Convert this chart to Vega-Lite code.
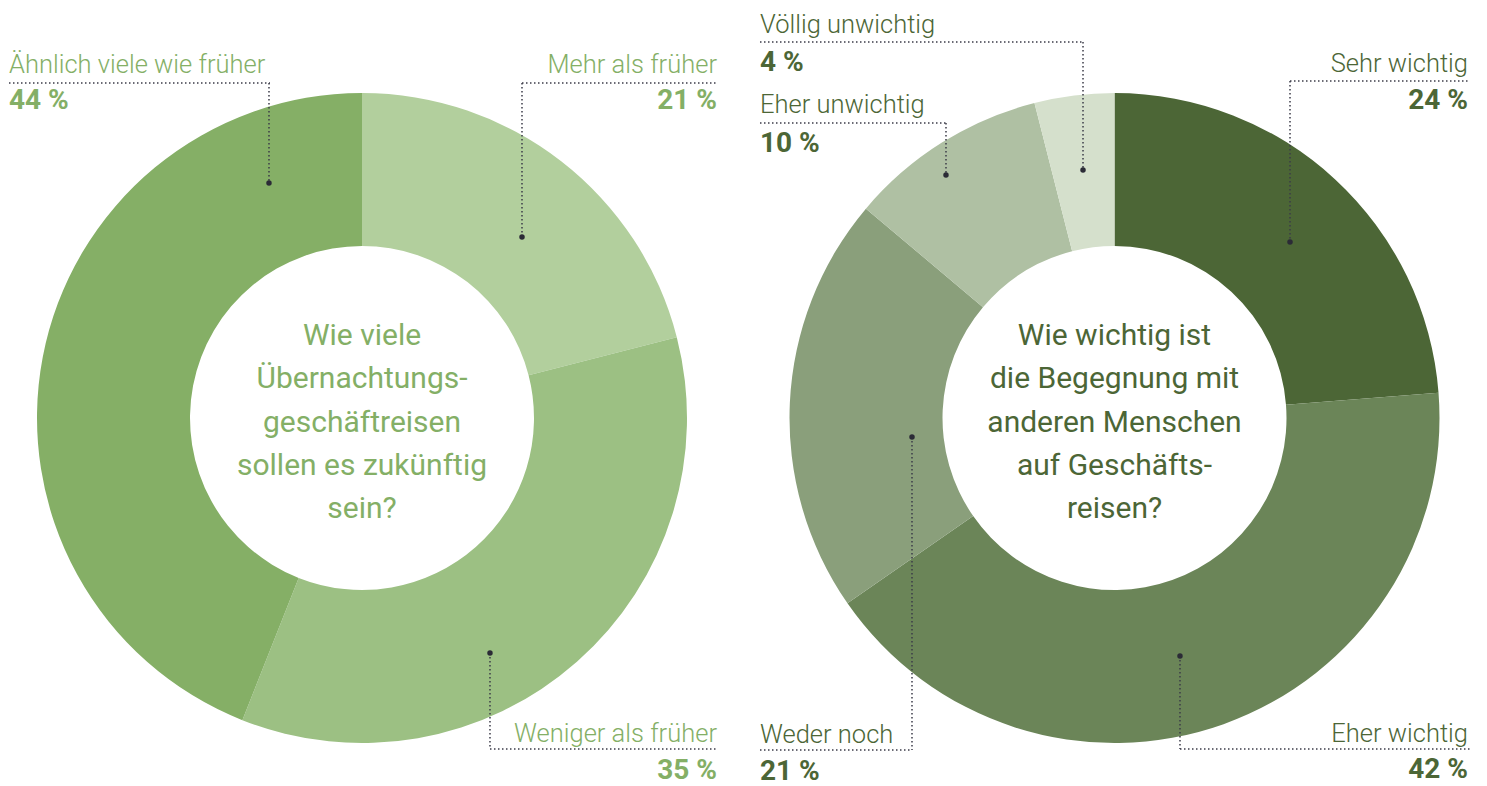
{
  "$schema": "https://vega.github.io/schema/vega-lite/v6.json",
  "width": 1487,
  "height": 786,
  "autosize": {"type": "fit", "contains": "padding"},
  "padding": 0,
  "background": "white",
  "config": {"view": {"stroke": null}},
  "resolve": {"scale": {"theta": "independent"}},
  "data": {"values": [
    {"q": "L", "label": "Mehr als früher", "pct": 21, "seq": 1},
    {"q": "L", "label": "Weniger als früher", "pct": 35, "seq": 2},
    {"q": "L", "label": "Ähnlich viele wie früher", "pct": 44, "seq": 3},
    {"q": "R", "label": "Sehr wichtig", "pct": 24, "seq": 1},
    {"q": "R", "label": "Eher wichtig", "pct": 42, "seq": 2},
    {"q": "R", "label": "Weder noch", "pct": 21, "seq": 3},
    {"q": "R", "label": "Eher unwichtig", "pct": 10, "seq": 4},
    {"q": "R", "label": "Völlig unwichtig", "pct": 4, "seq": 5}
  ]},
  "transform": [{"calculate": "datum.pct + ' %'", "as": "pctLabel"}],
  "layer": [
    {"transform": [{"filter": "datum.q === 'L'"}],
     "mark": {"type": "arc", "outerRadius": 325, "innerRadius": 172},
     "encoding": {
       "theta": {"field": "pct", "type": "quantitative", "stack": true},
       "order": {"field": "seq", "type": "quantitative"},
       "color": {"field": "label", "type": "nominal", "legend": null,
         "scale": {"domain": ["Mehr als früher", "Weniger als früher", "Ähnlich viele wie früher", "Sehr wichtig", "Eher wichtig", "Weder noch", "Eher unwichtig", "Völlig unwichtig"],
                   "range": ["#B2CF9D", "#9CC083", "#85AF66", "#4C6636", "#6B8558", "#8A9F7B", "#AFC0A3", "#D5E0CC"]}},
       "x": {"datum": 0, "type": "quantitative", "scale": {"domain": [-111.385, 346.154], "nice": false, "zero": false}, "axis": null},
       "y": {"datum": 0, "type": "quantitative", "scale": {"domain": [-113.231, 128.615], "nice": false, "zero": false}, "axis": null}
     }},
    {"transform": [{"filter": "datum.q === 'R'"}],
     "mark": {"type": "arc", "outerRadius": 325, "innerRadius": 172},
     "encoding": {
       "theta": {"field": "pct", "type": "quantitative", "stack": true},
       "order": {"field": "seq", "type": "quantitative"},
       "color": {"field": "label", "type": "nominal", "legend": null,
         "scale": {"domain": ["Mehr als früher", "Weniger als früher", "Ähnlich viele wie früher", "Sehr wichtig", "Eher wichtig", "Weder noch", "Eher unwichtig", "Völlig unwichtig"],
                   "range": ["#B2CF9D", "#9CC083", "#85AF66", "#4C6636", "#6B8558", "#8A9F7B", "#AFC0A3", "#D5E0CC"]}},
       "x": {"datum": 231.54, "type": "quantitative", "scale": {"domain": [-111.385, 346.154], "nice": false, "zero": false}, "axis": null},
       "y": {"datum": 0, "type": "quantitative", "scale": {"domain": [-113.231, 128.615], "nice": false, "zero": false}, "axis": null}
     }},

    {"data": {"values": [{}]},
     "mark": {"type": "text", "align": "center", "baseline": "alphabetic", "font": "Roboto", "fontSize": 30, "lineHeight": 43.3, "color": "#84AF66",
              "text": ["Wie viele", "Übernachtungs-", "geschäftreisen", "sollen es zukünftig", "sein?"]},
     "encoding": {
       "x": {"datum": 0, "type": "quantitative", "scale": {"domain": [-111.385, 346.154], "nice": false, "zero": false}, "axis": null},
       "y": {"datum": 22.46, "type": "quantitative", "scale": {"domain": [-113.231, 128.615], "nice": false, "zero": false}, "axis": null}
     }},
    {"data": {"values": [{}]},
     "mark": {"type": "text", "align": "center", "baseline": "alphabetic", "font": "Roboto", "fontSize": 30, "lineHeight": 43.3, "color": "#4C6636",
              "text": ["Wie wichtig ist", "die Begegnung mit", "anderen Menschen", "auf Geschäfts-", "reisen?"]},
     "encoding": {
       "x": {"datum": 231.54, "type": "quantitative", "scale": {"domain": [-111.385, 346.154], "nice": false, "zero": false}, "axis": null},
       "y": {"datum": 22.46, "type": "quantitative", "scale": {"domain": [-113.231, 128.615], "nice": false, "zero": false}, "axis": null}
     }},

    {"transform": [{"filter": "datum.label === 'Ähnlich viele wie früher'"}],
     "mark": {"type": "text", "align": "left", "baseline": "alphabetic", "font": "Roboto", "fontSize": 25.5, "fontWeight": 300, "color": "#84AF66"},
     "encoding": {"text": {"field": "label"},
       "x": {"datum": -108.62, "type": "quantitative", "scale": {"domain": [-111.385, 346.154], "nice": false, "zero": false}, "axis": null},
       "y": {"datum": 106.15, "type": "quantitative", "scale": {"domain": [-113.231, 128.615], "nice": false, "zero": false}, "axis": null}}},
    {"transform": [{"filter": "datum.label === 'Ähnlich viele wie früher'"}],
     "mark": {"type": "text", "align": "left", "baseline": "alphabetic", "font": "Roboto", "fontSize": 28, "fontWeight": "bold", "color": "#84AF66"},
     "encoding": {"text": {"field": "pctLabel"},
       "x": {"datum": -108.62, "type": "quantitative", "scale": {"domain": [-111.385, 346.154], "nice": false, "zero": false}, "axis": null},
       "y": {"datum": 95.08, "type": "quantitative", "scale": {"domain": [-113.231, 128.615], "nice": false, "zero": false}, "axis": null}}},
    {"transform": [{"filter": "datum.label === 'Ähnlich viele wie früher'"}],
     "mark": {"type": "rule", "color": "#3b3b48", "strokeWidth": 1.5, "strokeDash": [1.5, 2.5]},
     "encoding": {
       "x": {"datum": -108.62, "type": "quantitative", "scale": {"domain": [-111.385, 346.154], "nice": false, "zero": false}, "axis": null},
       "x2": {"datum": -28.31},
       "y": {"datum": 103.08, "type": "quantitative", "scale": {"domain": [-113.231, 128.615], "nice": false, "zero": false}, "axis": null}}},
    {"transform": [{"filter": "datum.label === 'Ähnlich viele wie früher'"}],
     "mark": {"type": "rule", "color": "#3b3b48", "strokeWidth": 1.5, "strokeDash": [1.5, 2.5]},
     "encoding": {
       "x": {"datum": -28.62, "type": "quantitative", "scale": {"domain": [-111.385, 346.154], "nice": false, "zero": false}, "axis": null},
       "y": {"datum": 103.08, "type": "quantitative", "scale": {"domain": [-113.231, 128.615], "nice": false, "zero": false}, "axis": null},
       "y2": {"datum": 72.31}}},
    {"transform": [{"filter": "datum.label === 'Ähnlich viele wie früher'"}],
     "mark": {"type": "point", "filled": true, "size": 30, "color": "#2b2b36", "opacity": 1},
     "encoding": {
       "x": {"datum": -28.62, "type": "quantitative", "scale": {"domain": [-111.385, 346.154], "nice": false, "zero": false}, "axis": null},
       "y": {"datum": 72.31, "type": "quantitative", "scale": {"domain": [-113.231, 128.615], "nice": false, "zero": false}, "axis": null}}},

    {"transform": [{"filter": "datum.label === 'Mehr als früher'"}],
     "mark": {"type": "text", "align": "right", "baseline": "alphabetic", "font": "Roboto", "fontSize": 25.5, "fontWeight": 300, "color": "#84AF66"},
     "encoding": {"text": {"field": "label"},
       "x": {"datum": 109.23, "type": "quantitative", "scale": {"domain": [-111.385, 346.154], "nice": false, "zero": false}, "axis": null},
       "y": {"datum": 106.15, "type": "quantitative", "scale": {"domain": [-113.231, 128.615], "nice": false, "zero": false}, "axis": null}}},
    {"transform": [{"filter": "datum.label === 'Mehr als früher'"}],
     "mark": {"type": "text", "align": "right", "baseline": "alphabetic", "font": "Roboto", "fontSize": 28, "fontWeight": "bold", "color": "#84AF66"},
     "encoding": {"text": {"field": "pctLabel"},
       "x": {"datum": 109.23, "type": "quantitative", "scale": {"domain": [-111.385, 346.154], "nice": false, "zero": false}, "axis": null},
       "y": {"datum": 95.08, "type": "quantitative", "scale": {"domain": [-113.231, 128.615], "nice": false, "zero": false}, "axis": null}}},
    {"transform": [{"filter": "datum.label === 'Mehr als früher'"}],
     "mark": {"type": "rule", "color": "#3b3b48", "strokeWidth": 1.5, "strokeDash": [1.5, 2.5]},
     "encoding": {
       "x": {"datum": 49.23, "type": "quantitative", "scale": {"domain": [-111.385, 346.154], "nice": false, "zero": false}, "axis": null},
       "x2": {"datum": 109.54},
       "y": {"datum": 103.08, "type": "quantitative", "scale": {"domain": [-113.231, 128.615], "nice": false, "zero": false}, "axis": null}}},
    {"transform": [{"filter": "datum.label === 'Mehr als früher'"}],
     "mark": {"type": "rule", "color": "#3b3b48", "strokeWidth": 1.5, "strokeDash": [1.5, 2.5]},
     "encoding": {
       "x": {"datum": 49.23, "type": "quantitative", "scale": {"domain": [-111.385, 346.154], "nice": false, "zero": false}, "axis": null},
       "y": {"datum": 103.08, "type": "quantitative", "scale": {"domain": [-113.231, 128.615], "nice": false, "zero": false}, "axis": null},
       "y2": {"datum": 55.69}}},
    {"transform": [{"filter": "datum.label === 'Mehr als früher'"}],
     "mark": {"type": "point", "filled": true, "size": 30, "color": "#2b2b36", "opacity": 1},
     "encoding": {
       "x": {"datum": 49.23, "type": "quantitative", "scale": {"domain": [-111.385, 346.154], "nice": false, "zero": false}, "axis": null},
       "y": {"datum": 55.69, "type": "quantitative", "scale": {"domain": [-113.231, 128.615], "nice": false, "zero": false}, "axis": null}}},

    {"transform": [{"filter": "datum.label === 'Weniger als früher'"}],
     "mark": {"type": "text", "align": "right", "baseline": "alphabetic", "font": "Roboto", "fontSize": 25.5, "fontWeight": 300, "color": "#84AF66"},
     "encoding": {"text": {"field": "label"},
       "x": {"datum": 109.23, "type": "quantitative", "scale": {"domain": [-111.385, 346.154], "nice": false, "zero": false}, "axis": null},
       "y": {"datum": -99.69, "type": "quantitative", "scale": {"domain": [-113.231, 128.615], "nice": false, "zero": false}, "axis": null}}},
    {"transform": [{"filter": "datum.label === 'Weniger als früher'"}],
     "mark": {"type": "text", "align": "right", "baseline": "alphabetic", "font": "Roboto", "fontSize": 28, "fontWeight": "bold", "color": "#84AF66"},
     "encoding": {"text": {"field": "pctLabel"},
       "x": {"datum": 109.23, "type": "quantitative", "scale": {"domain": [-111.385, 346.154], "nice": false, "zero": false}, "axis": null},
       "y": {"datum": -111.08, "type": "quantitative", "scale": {"domain": [-113.231, 128.615], "nice": false, "zero": false}, "axis": null}}},
    {"transform": [{"filter": "datum.label === 'Weniger als früher'"}],
     "mark": {"type": "rule", "color": "#3b3b48", "strokeWidth": 1.5, "strokeDash": [1.5, 2.5]},
     "encoding": {
       "x": {"datum": 39.38, "type": "quantitative", "scale": {"domain": [-111.385, 346.154], "nice": false, "zero": false}, "axis": null},
       "x2": {"datum": 109.54},
       "y": {"datum": -101.85, "type": "quantitative", "scale": {"domain": [-113.231, 128.615], "nice": false, "zero": false}, "axis": null}}},
    {"transform": [{"filter": "datum.label === 'Weniger als früher'"}],
     "mark": {"type": "rule", "color": "#3b3b48", "strokeWidth": 1.5, "strokeDash": [1.5, 2.5]},
     "encoding": {
       "x": {"datum": 39.38, "type": "quantitative", "scale": {"domain": [-111.385, 346.154], "nice": false, "zero": false}, "axis": null},
       "y": {"datum": -72.31, "type": "quantitative", "scale": {"domain": [-113.231, 128.615], "nice": false, "zero": false}, "axis": null},
       "y2": {"datum": -101.85}}},
    {"transform": [{"filter": "datum.label === 'Weniger als früher'"}],
     "mark": {"type": "point", "filled": true, "size": 30, "color": "#2b2b36", "opacity": 1},
     "encoding": {
       "x": {"datum": 39.38, "type": "quantitative", "scale": {"domain": [-111.385, 346.154], "nice": false, "zero": false}, "axis": null},
       "y": {"datum": -72.31, "type": "quantitative", "scale": {"domain": [-113.231, 128.615], "nice": false, "zero": false}, "axis": null}}},

    {"transform": [{"filter": "datum.label === 'Völlig unwichtig'"}],
     "mark": {"type": "text", "align": "left", "baseline": "alphabetic", "font": "Roboto", "fontSize": 25.5, "fontWeight": 300, "color": "#4C6636"},
     "encoding": {"text": {"field": "label"},
       "x": {"datum": 122.46, "type": "quantitative", "scale": {"domain": [-111.385, 346.154], "nice": false, "zero": false}, "axis": null},
       "y": {"datum": 118.46, "type": "quantitative", "scale": {"domain": [-113.231, 128.615], "nice": false, "zero": false}, "axis": null}}},
    {"transform": [{"filter": "datum.label === 'Völlig unwichtig'"}],
     "mark": {"type": "text", "align": "left", "baseline": "alphabetic", "font": "Roboto", "fontSize": 28, "fontWeight": "bold", "color": "#4C6636"},
     "encoding": {"text": {"field": "pctLabel"},
       "x": {"datum": 122.46, "type": "quantitative", "scale": {"domain": [-111.385, 346.154], "nice": false, "zero": false}, "axis": null},
       "y": {"datum": 106.77, "type": "quantitative", "scale": {"domain": [-113.231, 128.615], "nice": false, "zero": false}, "axis": null}}},
    {"transform": [{"filter": "datum.label === 'Völlig unwichtig'"}],
     "mark": {"type": "rule", "color": "#3b3b48", "strokeWidth": 1.5, "strokeDash": [1.5, 2.5]},
     "encoding": {
       "x": {"datum": 122.46, "type": "quantitative", "scale": {"domain": [-111.385, 346.154], "nice": false, "zero": false}, "axis": null},
       "x2": {"datum": 222.15},
       "y": {"datum": 115.69, "type": "quantitative", "scale": {"domain": [-113.231, 128.615], "nice": false, "zero": false}, "axis": null}}},
    {"transform": [{"filter": "datum.label === 'Völlig unwichtig'"}],
     "mark": {"type": "rule", "color": "#3b3b48", "strokeWidth": 1.5, "strokeDash": [1.5, 2.5]},
     "encoding": {
       "x": {"datum": 221.85, "type": "quantitative", "scale": {"domain": [-111.385, 346.154], "nice": false, "zero": false}, "axis": null},
       "y": {"datum": 115.69, "type": "quantitative", "scale": {"domain": [-113.231, 128.615], "nice": false, "zero": false}, "axis": null},
       "y2": {"datum": 76.31}}},
    {"transform": [{"filter": "datum.label === 'Völlig unwichtig'"}],
     "mark": {"type": "point", "filled": true, "size": 30, "color": "#2b2b36", "opacity": 1},
     "encoding": {
       "x": {"datum": 221.85, "type": "quantitative", "scale": {"domain": [-111.385, 346.154], "nice": false, "zero": false}, "axis": null},
       "y": {"datum": 76.31, "type": "quantitative", "scale": {"domain": [-113.231, 128.615], "nice": false, "zero": false}, "axis": null}}},

    {"transform": [{"filter": "datum.label === 'Eher unwichtig'"}],
     "mark": {"type": "text", "align": "left", "baseline": "alphabetic", "font": "Roboto", "fontSize": 25.5, "fontWeight": 300, "color": "#4C6636"},
     "encoding": {"text": {"field": "label"},
       "x": {"datum": 122.46, "type": "quantitative", "scale": {"domain": [-111.385, 346.154], "nice": false, "zero": false}, "axis": null},
       "y": {"datum": 93.85, "type": "quantitative", "scale": {"domain": [-113.231, 128.615], "nice": false, "zero": false}, "axis": null}}},
    {"transform": [{"filter": "datum.label === 'Eher unwichtig'"}],
     "mark": {"type": "text", "align": "left", "baseline": "alphabetic", "font": "Roboto", "fontSize": 28, "fontWeight": "bold", "color": "#4C6636"},
     "encoding": {"text": {"field": "pctLabel"},
       "x": {"datum": 122.46, "type": "quantitative", "scale": {"domain": [-111.385, 346.154], "nice": false, "zero": false}, "axis": null},
       "y": {"datum": 81.85, "type": "quantitative", "scale": {"domain": [-113.231, 128.615], "nice": false, "zero": false}, "axis": null}}},
    {"transform": [{"filter": "datum.label === 'Eher unwichtig'"}],
     "mark": {"type": "rule", "color": "#3b3b48", "strokeWidth": 1.5, "strokeDash": [1.5, 2.5]},
     "encoding": {
       "x": {"datum": 122.46, "type": "quantitative", "scale": {"domain": [-111.385, 346.154], "nice": false, "zero": false}, "axis": null},
       "x2": {"datum": 180.0},
       "y": {"datum": 90.77, "type": "quantitative", "scale": {"domain": [-113.231, 128.615], "nice": false, "zero": false}, "axis": null}}},
    {"transform": [{"filter": "datum.label === 'Eher unwichtig'"}],
     "mark": {"type": "rule", "color": "#3b3b48", "strokeWidth": 1.5, "strokeDash": [1.5, 2.5]},
     "encoding": {
       "x": {"datum": 179.69, "type": "quantitative", "scale": {"domain": [-111.385, 346.154], "nice": false, "zero": false}, "axis": null},
       "y": {"datum": 90.77, "type": "quantitative", "scale": {"domain": [-113.231, 128.615], "nice": false, "zero": false}, "axis": null},
       "y2": {"datum": 74.77}}},
    {"transform": [{"filter": "datum.label === 'Eher unwichtig'"}],
     "mark": {"type": "point", "filled": true, "size": 30, "color": "#2b2b36", "opacity": 1},
     "encoding": {
       "x": {"datum": 179.69, "type": "quantitative", "scale": {"domain": [-111.385, 346.154], "nice": false, "zero": false}, "axis": null},
       "y": {"datum": 74.77, "type": "quantitative", "scale": {"domain": [-113.231, 128.615], "nice": false, "zero": false}, "axis": null}}},

    {"transform": [{"filter": "datum.label === 'Sehr wichtig'"}],
     "mark": {"type": "text", "align": "right", "baseline": "alphabetic", "font": "Roboto", "fontSize": 25.5, "fontWeight": 300, "color": "#4C6636"},
     "encoding": {"text": {"field": "label"},
       "x": {"datum": 340.31, "type": "quantitative", "scale": {"domain": [-111.385, 346.154], "nice": false, "zero": false}, "axis": null},
       "y": {"datum": 106.46, "type": "quantitative", "scale": {"domain": [-113.231, 128.615], "nice": false, "zero": false}, "axis": null}}},
    {"transform": [{"filter": "datum.label === 'Sehr wichtig'"}],
     "mark": {"type": "text", "align": "right", "baseline": "alphabetic", "font": "Roboto", "fontSize": 28, "fontWeight": "bold", "color": "#4C6636"},
     "encoding": {"text": {"field": "pctLabel"},
       "x": {"datum": 340.31, "type": "quantitative", "scale": {"domain": [-111.385, 346.154], "nice": false, "zero": false}, "axis": null},
       "y": {"datum": 95.08, "type": "quantitative", "scale": {"domain": [-113.231, 128.615], "nice": false, "zero": false}, "axis": null}}},
    {"transform": [{"filter": "datum.label === 'Sehr wichtig'"}],
     "mark": {"type": "rule", "color": "#3b3b48", "strokeWidth": 1.5, "strokeDash": [1.5, 2.5]},
     "encoding": {
       "x": {"datum": 285.54, "type": "quantitative", "scale": {"domain": [-111.385, 346.154], "nice": false, "zero": false}, "axis": null},
       "x2": {"datum": 340.92},
       "y": {"datum": 103.69, "type": "quantitative", "scale": {"domain": [-113.231, 128.615], "nice": false, "zero": false}, "axis": null}}},
    {"transform": [{"filter": "datum.label === 'Sehr wichtig'"}],
     "mark": {"type": "rule", "color": "#3b3b48", "strokeWidth": 1.5, "strokeDash": [1.5, 2.5]},
     "encoding": {
       "x": {"datum": 285.54, "type": "quantitative", "scale": {"domain": [-111.385, 346.154], "nice": false, "zero": false}, "axis": null},
       "y": {"datum": 103.69, "type": "quantitative", "scale": {"domain": [-113.231, 128.615], "nice": false, "zero": false}, "axis": null},
       "y2": {"datum": 54.15}}},
    {"transform": [{"filter": "datum.label === 'Sehr wichtig'"}],
     "mark": {"type": "point", "filled": true, "size": 30, "color": "#2b2b36", "opacity": 1},
     "encoding": {
       "x": {"datum": 285.54, "type": "quantitative", "scale": {"domain": [-111.385, 346.154], "nice": false, "zero": false}, "axis": null},
       "y": {"datum": 54.15, "type": "quantitative", "scale": {"domain": [-113.231, 128.615], "nice": false, "zero": false}, "axis": null}}},

    {"transform": [{"filter": "datum.label === 'Weder noch'"}],
     "mark": {"type": "text", "align": "left", "baseline": "alphabetic", "font": "Roboto", "fontSize": 25.5, "fontWeight": 300, "color": "#4C6636"},
     "encoding": {"text": {"field": "label"},
       "x": {"datum": 122.46, "type": "quantitative", "scale": {"domain": [-111.385, 346.154], "nice": false, "zero": false}, "axis": null},
       "y": {"datum": -100.0, "type": "quantitative", "scale": {"domain": [-113.231, 128.615], "nice": false, "zero": false}, "axis": null}}},
    {"transform": [{"filter": "datum.label === 'Weder noch'"}],
     "mark": {"type": "text", "align": "left", "baseline": "alphabetic", "font": "Roboto", "fontSize": 28, "fontWeight": "bold", "color": "#4C6636"},
     "encoding": {"text": {"field": "pctLabel"},
       "x": {"datum": 122.46, "type": "quantitative", "scale": {"domain": [-111.385, 346.154], "nice": false, "zero": false}, "axis": null},
       "y": {"datum": -111.38, "type": "quantitative", "scale": {"domain": [-113.231, 128.615], "nice": false, "zero": false}, "axis": null}}},
    {"transform": [{"filter": "datum.label === 'Weder noch'"}],
     "mark": {"type": "rule", "color": "#3b3b48", "strokeWidth": 1.5, "strokeDash": [1.5, 2.5]},
     "encoding": {
       "x": {"datum": 122.46, "type": "quantitative", "scale": {"domain": [-111.385, 346.154], "nice": false, "zero": false}, "axis": null},
       "x2": {"datum": 169.23},
       "y": {"datum": -102.15, "type": "quantitative", "scale": {"domain": [-113.231, 128.615], "nice": false, "zero": false}, "axis": null}}},
    {"transform": [{"filter": "datum.label === 'Weder noch'"}],
     "mark": {"type": "rule", "color": "#3b3b48", "strokeWidth": 1.5, "strokeDash": [1.5, 2.5]},
     "encoding": {
       "x": {"datum": 169.23, "type": "quantitative", "scale": {"domain": [-111.385, 346.154], "nice": false, "zero": false}, "axis": null},
       "y": {"datum": -5.85, "type": "quantitative", "scale": {"domain": [-113.231, 128.615], "nice": false, "zero": false}, "axis": null},
       "y2": {"datum": -102.15}}},
    {"transform": [{"filter": "datum.label === 'Weder noch'"}],
     "mark": {"type": "point", "filled": true, "size": 30, "color": "#2b2b36", "opacity": 1},
     "encoding": {
       "x": {"datum": 169.23, "type": "quantitative", "scale": {"domain": [-111.385, 346.154], "nice": false, "zero": false}, "axis": null},
       "y": {"datum": -5.85, "type": "quantitative", "scale": {"domain": [-113.231, 128.615], "nice": false, "zero": false}, "axis": null}}},

    {"transform": [{"filter": "datum.label === 'Eher wichtig'"}],
     "mark": {"type": "text", "align": "right", "baseline": "alphabetic", "font": "Roboto", "fontSize": 25.5, "fontWeight": 300, "color": "#4C6636"},
     "encoding": {"text": {"field": "label"},
       "x": {"datum": 340.31, "type": "quantitative", "scale": {"domain": [-111.385, 346.154], "nice": false, "zero": false}, "axis": null},
       "y": {"datum": -99.69, "type": "quantitative", "scale": {"domain": [-113.231, 128.615], "nice": false, "zero": false}, "axis": null}}},
    {"transform": [{"filter": "datum.label === 'Eher wichtig'"}],
     "mark": {"type": "text", "align": "right", "baseline": "alphabetic", "font": "Roboto", "fontSize": 28, "fontWeight": "bold", "color": "#4C6636"},
     "encoding": {"text": {"field": "pctLabel"},
       "x": {"datum": 340.31, "type": "quantitative", "scale": {"domain": [-111.385, 346.154], "nice": false, "zero": false}, "axis": null},
       "y": {"datum": -110.77, "type": "quantitative", "scale": {"domain": [-113.231, 128.615], "nice": false, "zero": false}, "axis": null}}},
    {"transform": [{"filter": "datum.label === 'Eher wichtig'"}],
     "mark": {"type": "rule", "color": "#3b3b48", "strokeWidth": 1.5, "strokeDash": [1.5, 2.5]},
     "encoding": {
       "x": {"datum": 251.69, "type": "quantitative", "scale": {"domain": [-111.385, 346.154], "nice": false, "zero": false}, "axis": null},
       "x2": {"datum": 340.92},
       "y": {"datum": -101.85, "type": "quantitative", "scale": {"domain": [-113.231, 128.615], "nice": false, "zero": false}, "axis": null}}},
    {"transform": [{"filter": "datum.label === 'Eher wichtig'"}],
     "mark": {"type": "rule", "color": "#3b3b48", "strokeWidth": 1.5, "strokeDash": [1.5, 2.5]},
     "encoding": {
       "x": {"datum": 251.69, "type": "quantitative", "scale": {"domain": [-111.385, 346.154], "nice": false, "zero": false}, "axis": null},
       "y": {"datum": -73.23, "type": "quantitative", "scale": {"domain": [-113.231, 128.615], "nice": false, "zero": false}, "axis": null},
       "y2": {"datum": -101.85}}},
    {"transform": [{"filter": "datum.label === 'Eher wichtig'"}],
     "mark": {"type": "point", "filled": true, "size": 30, "color": "#2b2b36", "opacity": 1},
     "encoding": {
       "x": {"datum": 251.69, "type": "quantitative", "scale": {"domain": [-111.385, 346.154], "nice": false, "zero": false}, "axis": null},
       "y": {"datum": -73.23, "type": "quantitative", "scale": {"domain": [-113.231, 128.615], "nice": false, "zero": false}, "axis": null}}}
  ]
}
